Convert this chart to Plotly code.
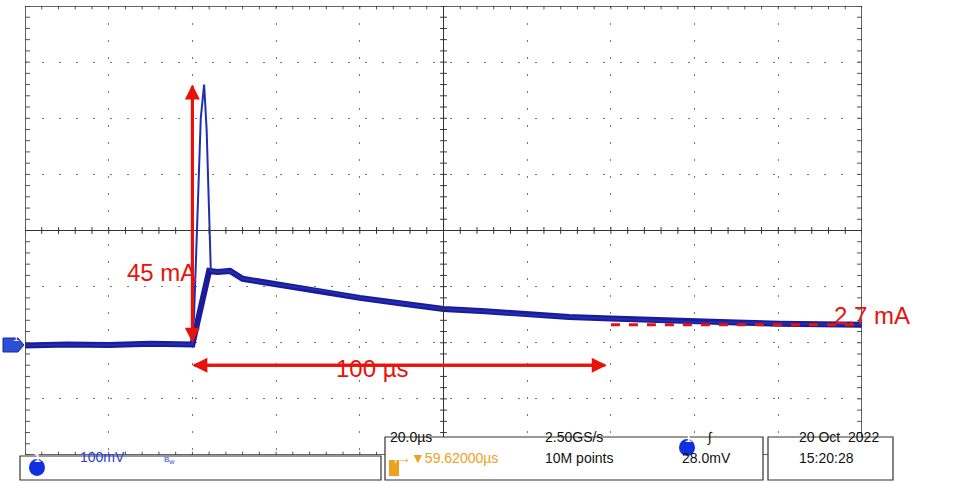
import plotly.graph_objects as go

# waveform in screen divisions (x: 0..10, y: -4..4)
wave_x = [0, 0.5, 1.0, 1.5, 2.0, 2.02, 2.05, 2.08, 2.1, 2.14, 2.17, 2.2, 2.22, 2.3, 2.45, 2.6,
          3.0, 3.5, 4.0, 4.5, 5.0, 5.5, 6.0, 6.5, 7.0, 7.5, 8.0, 8.5, 9.0, 9.5, 10.0]
wave_y = [-2.05, -2.03, -2.04, -2.02, -2.03, -1.5, -0.2, 1.2, 2.0, 2.6, 1.8, 0.3, -0.72, -0.74,
          -0.72, -0.86, -0.96, -1.06, -1.2, -1.3, -1.4, -1.44, -1.5, -1.54, -1.57, -1.6, -1.63,
          -1.64, -1.66, -1.67, -1.68]
band_x = [0, 0.5, 1.0, 1.5, 2.0, 2.2, 2.3, 2.45, 2.6, 3.0, 3.5, 4.0, 4.5, 5.0, 5.5, 6.0, 6.5,
          7.0, 7.5, 8.0, 8.5, 9.0, 9.5, 10.0]
band_y = [-2.05, -2.03, -2.04, -2.02, -2.03, -0.72, -0.74, -0.72, -0.86, -0.96, -1.06, -1.2,
          -1.3, -1.4, -1.44, -1.5, -1.54, -1.57, -1.6, -1.63, -1.64, -1.66, -1.67, -1.68]

RED = "#e8120c"
W, H = 960, 482
L, R, T, B = 25, 98, 6, 27
pw, ph = W - L - R, H - T - B


def px(X):
    return (X - L) / pw


def py(Y):
    return (H - B - Y) / ph


fig = go.Figure()
fig.add_trace(go.Scatter(x=band_x, y=band_y, mode="lines",
                         line=dict(color="#1a1a9a", width=6), hoverinfo="skip"))
fig.add_trace(go.Scatter(x=wave_x, y=wave_y, mode="lines",
                         line=dict(color="#1f2fb0", width=2), hoverinfo="skip"))

shapes = []
# dashed 2.7 mA level
shapes.append(dict(type="line", x0=7.0, x1=10, y0=-1.68, y1=-1.68,
                   line=dict(color=RED, width=3, dash="dash"), layer="above"))
# minor ticks on center lines and borders
for i in range(51):
    x = i * 0.2
    shapes.append(dict(type="line", x0=x, x1=x, y0=-0.06, y1=0.06, line=dict(color="#333", width=1)))
    shapes.append(dict(type="line", x0=x, x1=x, y0=3.94, y1=4, line=dict(color="#555", width=1)))
    shapes.append(dict(type="line", x0=x, x1=x, y0=-4, y1=-3.94, line=dict(color="#555", width=1)))
for i in range(41):
    y = -4 + i * 0.2
    shapes.append(dict(type="line", x0=4.96, x1=5.04, y0=y, y1=y, line=dict(color="#333", width=1)))
    shapes.append(dict(type="line", x0=0, x1=0.06, y0=y, y1=y, line=dict(color="#555", width=1)))
    shapes.append(dict(type="line", x0=9.94, x1=10, y0=y, y1=y, line=dict(color="#555", width=1)))
shapes.append(dict(type="line", x0=0, x1=10, y0=0, y1=0, line=dict(color="#333", width=1)))
shapes.append(dict(type="line", x0=5, x1=5, y0=-4, y1=4, line=dict(color="#333", width=1)))
shapes.append(dict(type="rect", x0=0, x1=10, y0=-4, y1=4, line=dict(color="#333", width=1.5)))

# status boxes
for x0, x1, y0, y1 in [(20, 381, 456, 480), (385, 763, 437, 480), (768, 893, 437, 480)]:
    shapes.append(dict(type="rect", xref="paper", yref="paper", x0=px(x0), x1=px(x1),
                       y0=py(y1), y1=py(y0), fillcolor="white",
                       line=dict(color="#333", width=1.2)))
# channel marker
shapes.append(dict(type="path", xref="paper", yref="paper",
                   path=f"M {px(3)} {py(338)} L {px(18)} {py(338)} L {px(24)} {py(345)} "
                        f"L {px(18)} {py(352)} L {px(3)} {py(352)} Z",
                   fillcolor="#2a4fd8", line=dict(color="#1a2a90", width=1)))
shapes.append(dict(type="circle", xref="paper", yref="paper", x0=px(29), x1=px(45), y0=py(476), y1=py(459),
                   fillcolor="#1030e0", line=dict(width=0)))
shapes.append(dict(type="circle", xref="paper", yref="paper", x0=px(679), x1=px(695), y0=py(456), y1=py(439),
                   fillcolor="#1030e0", line=dict(width=0)))
shapes.append(dict(type="rect", xref="paper", yref="paper", x0=px(389), x1=px(399), y0=py(476), y1=py(460),
                   fillcolor="#f0a020", line=dict(width=0)))

ann = []
# arrows
for (xa, ya, xb, yb) in [(2.0, 2.6, 2.0, -2.0), (2.0, -2.0, 2.0, 2.6),
                         (2.0, -2.4, 6.95, -2.4), (6.95, -2.4, 2.0, -2.4)]:
    ann.append(dict(x=xa, y=ya, ax=xb, ay=yb, xref="x", yref="y", axref="x", ayref="y",
                    showarrow=True, arrowhead=2, arrowsize=1, arrowwidth=3, arrowcolor=RED, text=""))
ann.append(dict(x=px(125), y=py(272), xref="paper", yref="paper", text="45 mA", showarrow=False,
                font=dict(size=24, color=RED)))
ann.append(dict(x=px(372), y=py(384), xref="paper", yref="paper", text="100 µs", showarrow=False,
                font=dict(size=24, color=RED)))
ann.append(dict(x=px(912), y=py(331), xref="paper", yref="paper", text="2.7 mA", showarrow=False,
                font=dict(size=24, color=RED)))
ann.append(dict(x=px(11), y=py(345), xref="paper", yref="paper", text="1", showarrow=False,
                font=dict(size=11, color="white")))


# status texts
def txt(X, Y, s, color="#111", size=14, anchor="left"):
    ann.append(dict(x=px(X), y=py(Y), xref="paper", yref="paper", text=s, showarrow=False,
                    xanchor=anchor, font=dict(size=size, color=color,
                                              family="Liberation Sans Narrow, Liberation Sans")))


txt(32, 467, "<b>1</b>", "white", 12)
txt(78, 467, "100mV", "#2a3fe0", 14)
txt(162, 467, "B<sub>W</sub>", "#2a3fe0", 8)
txt(388, 447, "20.0µs")
txt(395, 468, "→▼59.62000µs", "#f0a020")
txt(543, 447, "2.50GS/s")
txt(543, 468, "10M points")
txt(683, 447, "<b>1</b>", "white", 12)
txt(705, 447, "∫")
txt(680, 468, "28.0mV")
txt(797, 447, "20 Oct  2022")
txt(797, 468, "15:20:28")
txt(390, 468, "T", "white", 12)

for s in shapes:
    fig.add_shape(**s)

grid = dict(showgrid=True, gridcolor="#777", griddash="2px,15px", gridwidth=1, zeroline=False,
            showticklabels=False, ticks="", fixedrange=True)
fig.update_layout(
    width=W, height=H, margin=dict(l=L, r=R, t=T, b=B),
    paper_bgcolor="white", plot_bgcolor="white", showlegend=False,
    xaxis=dict(range=[0, 10], dtick=1, **grid),
    yaxis=dict(range=[-4, 4], dtick=1, **grid),
    annotations=ann,
    font=dict(family="Liberation Sans, Arial"),
)
fig.write_html("out.html", config={"displayModeBar": False},
               post_script="document.body.style.margin='0';")
